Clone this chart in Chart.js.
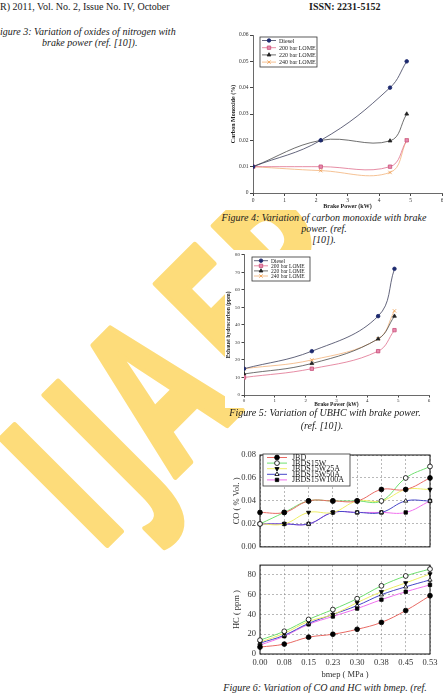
<!DOCTYPE html>
<html>
<head>
<meta charset="utf-8">
<script src="https://cdn.jsdelivr.net/npm/chart.js@4.4.0/dist/chart.umd.min.js"></script>
<style>
    body { margin: 0; width: 443px; height: 695px; overflow: hidden; position: relative; background: #fff; font-family: "Liberation Serif", "Times New Roman", serif; }
    .wm { position: absolute; left: 0; top: 0; z-index: 0; }
    .sheet { position: absolute; background: #fff; z-index: 1; }
    .plot { position: absolute; z-index: 2; }
    .txt { position: absolute; z-index: 3; white-space: nowrap; color: #1a1a1a; font-size: 10px; line-height: 12px; }
    .it { font-style: italic; }
    .ctr { transform: translateX(-50%); }
</style>
</head>
<body>

<svg class="wm" width="443" height="695">
    <g transform="translate(116,536) rotate(-45) scale(0.66,1)">
        <text id="wmText" x="0" y="0" font-family="Open Sans" font-weight="700" font-size="210"
              fill="#FDDC7A" stroke="#FDDC7A" stroke-width="6" stroke-linejoin="round">IJAER</text>
    </g>
</svg>

<div class="txt" style="left:0; top:1px;">R) 2011, Vol. No. 2, Issue No. IV, October</div>
<div class="txt" style="left:309px; top:1px; font-weight:bold;">ISSN: 2231-5152</div>
<div class="txt it" style="left:0; top:26px;">igure 3: Variation of oxides of nitrogen with</div>
<div class="txt it" style="left:42px; top:37px;">brake power (ref. [10]).</div>

<div class="sheet" style="left:225px; top:25px; width:218px; height:185px;"></div>
<div class="plot" style="left:225px; top:25px; width:230px; height:185px;"><canvas id="fig4"></canvas></div>
<div class="txt it ctr" style="left:324px; top:212px;">Figure 4: Variation of carbon monoxide with brake</div>
<div class="txt it ctr" style="left:324px; top:223px;">power. (ref.</div>
<div class="txt it ctr" style="left:324px; top:234px;">[10]).</div>

<div class="sheet" style="left:225px; top:250px; width:218px; height:158px;"></div>
<div class="plot" style="left:225px; top:250px; width:230px; height:158px;"><canvas id="fig5"></canvas></div>
<div class="txt it ctr" style="left:325px; top:407px;">Figure 5: Variation of UBHC with brake power.</div>
<div class="txt it ctr" style="left:322px; top:420px;">(ref. [10]).</div>

<div class="sheet" style="left:225px; top:440px; width:218px; height:242px;"></div>
<div class="plot" style="left:225px; top:445px; width:218px; height:111px;"><canvas id="fig6co"></canvas></div>
<div class="plot" style="left:225px; top:556px; width:218px; height:124px;"><canvas id="fig6hc"></canvas></div>
<div class="txt it ctr" style="left:325px; top:682px;">Figure 6: Variation of CO and HC with bmep. (ref.</div>

<script>
// Figure 4: CO vs brake power
const bpCO = [0, 2.15, 4.35, 4.88];
const coDiesel = [0.010, 0.020, 0.040, 0.050];
const co200 = [0.010, 0.010, 0.010, 0.020];
const co220 = [0.010, 0.020, 0.0198, 0.030];
const co240 = [0.010, 0.0085, 0.0078, 0.020];

// Figure 5: UBHC vs brake power
const bpHC = [0, 2.2, 4.35, 4.88];
const hcDiesel = [15, 25, 45, 72];
const hc200 = [10, 15, 25, 37];
const hc220 = [12, 18, 32, 45];
const hc240 = [15, 20, 32, 48];

const fuelNames = ['Diesel', '200 bar LOME', '220 bar LOME', '240 bar LOME'];

// Figure 6: CO and HC vs bmep
const bmepLabels = ['0.00', '0.08', '0.15', '0.23', '0.30', '0.38', '0.45', '0.53'];
const blendNames = ['JBD', 'JBDS15W', 'JBDS15W25A', 'JBDS15W50A', 'JBDS15W100A'];
const coJBD    = [0.030, 0.030, 0.040, 0.040, 0.040, 0.050, 0.050, 0.060];
const coW      = [0.020, 0.030, 0.040, 0.040, 0.040, 0.040, 0.060, 0.070];
const coW25A   = [0.020, 0.020, 0.030, 0.030, 0.040, 0.040, 0.050, 0.050];
const coW50A   = [0.020, 0.020, 0.020, 0.030, 0.030, 0.030, 0.040, 0.040];
const coW100A  = [0.020, 0.020, 0.020, 0.030, 0.030, 0.030, 0.030, 0.040];
const hcJBD    = [7, 10, 17, 20, 25, 32, 44, 59];
const hcW      = [14, 23, 35, 45, 56, 69, 79, 86];
const hcW25A   = [12, 21, 33, 40, 52, 63, 72, 81];
const hcW50A   = [11, 19, 31, 40, 49, 60, 68, 75];
const hcW100A  = [9, 18, 30, 38, 46, 55, 63, 70];

document.addEventListener('DOMContentLoaded', () => {
    const serif = '"Liberation Serif", "Times New Roman", serif';

    // place watermark letters so their ink starts where the scan shows it
    (function placeWatermark() {
        const inkLeft = [-14, 25, 83, 205, 287];
        const sx = 0.66;
        const t = document.getElementById('wmText');
        const c = document.createElement('canvas').getContext('2d');
        c.font = '700 210px "Open Sans"';
        const xs = t.textContent.split('').map((ch, i) => {
            const m = c.measureText(ch);
            return (inkLeft[i] / sx + m.actualBoundingBoxLeft).toFixed(1);
        });
        t.setAttribute('x', xs.join(' '));
    })();

    const fuelStyles = [
        { line: '#3c3f5c', fill: '#1d2a6e', edge: '#1d2a6e', shape: 'circle', r: 1.8 },
        { line: '#e0708e', fill: '#e88aae', edge: '#c8507a', shape: 'rect', r: 2.4 },
        { line: '#4a4a4a', fill: '#222', edge: '#222', shape: 'triangle', r: 2.2 },
        { line: '#f2b27a', fill: '#f6a860', edge: '#ee9a4a', shape: 'crossRot', r: 2.4 }
    ];
    const blendStyles = [
        { line: '#e86a64', fill: '#000', shape: 'circle', rot: 0 },
        { line: '#70e070', fill: '#fff', shape: 'circle', rot: 0 },
        { line: '#eeee66', fill: '#000', shape: 'triangle', rot: 180 },
        { line: '#4646c8', fill: '#fff', shape: 'triangle', rot: 0 },
        { line: '#f070ee', fill: '#000', shape: 'rect', rot: 0 }
    ];

    const boxLegend = {
        id: 'boxLegend',
        afterDatasetsDraw(chart, args, opts) {
            if (!opts || !opts.rect) return;
            const ctx = chart.ctx;
            const [x, y, w, h] = opts.rect;
            ctx.save();
            ctx.fillStyle = '#fff';
            ctx.fillRect(x, y, w, h);
            ctx.strokeStyle = '#333';
            ctx.lineWidth = 0.8;
            ctx.strokeRect(x, y, w, h);
            ctx.font = opts.font;
            ctx.textBaseline = 'middle';
            chart.data.datasets.forEach((ds, i) => {
                const ry = y + opts.first + i * opts.step;
                const lx = x + opts.inset;
                ctx.strokeStyle = ds.borderColor;
                ctx.lineWidth = ds.borderWidth;
                ctx.beginPath();
                ctx.moveTo(lx, ry);
                ctx.lineTo(lx + opts.len, ry);
                ctx.stroke();
                ctx.fillStyle = ds.pointBackgroundColor;
                ctx.strokeStyle = ds.pointBorderColor;
                ctx.lineWidth = ds.pointBorderWidth;
                Chart.helpers.drawPoint(ctx, {
                    pointStyle: ds.pointStyle,
                    radius: ds.pointRadius,
                    rotation: ds.pointRotation || 0,
                    borderWidth: ds.pointBorderWidth
                }, lx + opts.len / 2, ry);
                ctx.fillStyle = '#222';
                ctx.fillText(ds.label, lx + opts.len + opts.gap, ry + 0.5);
            });
            ctx.restore();
        }
    };

    const frame = {
        id: 'frame',
        beforeDatasetsDraw(chart) {
            const a = chart.chartArea;
            const ctx = chart.ctx;
            ctx.save();
            ctx.strokeStyle = '#111';
            ctx.lineWidth = 1;
            ctx.strokeRect(a.left, a.top, a.right - a.left, a.bottom - a.top);
            ctx.restore();
        }
    };

    function xy(xs, ys) {
        return xs.map((x, i) => ({ x: x, y: ys[i] }));
    }

    function fuelSets(xs, series) {
        return series.map((ys, i) => {
            const s = fuelStyles[i];
            return {
                label: fuelNames[i],
                data: xy(xs, ys),
                borderColor: s.line,
                borderWidth: 0.8,
                tension: 0.4,
                pointStyle: s.shape,
                pointRadius: s.r,
                pointBackgroundColor: s.fill,
                pointBorderColor: s.edge,
                pointBorderWidth: 0.8
            };
        });
    }

    function blendSets(series) {
        return series.map((ys, i) => {
            const s = blendStyles[i];
            return {
                label: blendNames[i],
                data: ys,
                borderColor: s.line,
                borderWidth: 1,
                tension: 0.4,
                pointStyle: s.shape,
                pointRotation: s.rot,
                pointRadius: 2.4,
                pointBackgroundColor: s.fill,
                pointBorderColor: '#000',
                pointBorderWidth: 0.8
            };
        });
    }

    function fuelChart(id, xs, series, cfg) {
        const tickFont = { family: serif, size: cfg.tickSize };
        const titleFont = { family: serif, size: cfg.titleSize, weight: 'bold' };
        return new Chart(document.getElementById(id), {
            type: 'line',
            data: { datasets: fuelSets(xs, series) },
            plugins: [boxLegend],
            options: {
                responsive: true,
                maintainAspectRatio: false,
                animation: false,
                layout: { padding: cfg.pad },
                plugins: {
                    legend: { display: false },
                    tooltip: { enabled: false },
                    boxLegend: cfg.legend
                },
                scales: {
                    x: {
                        type: 'linear', min: 0, max: 6,
                        ticks: { stepSize: 1, font: tickFont, color: '#333', padding: cfg.xPad, maxRotation: 0 },
                        grid: { drawOnChartArea: false, tickLength: cfg.tickLen, color: '#444' },
                        border: { color: '#444', width: 0.8 },
                        title: { display: true, text: 'Brake Power (kW)', font: titleFont, color: '#222', padding: { top: cfg.xTitlePad, bottom: 0 } },
                        afterFit: (s) => { s.height = cfg.xHeight; }
                    },
                    y: {
                        min: 0, max: cfg.yMax,
                        ticks: { stepSize: cfg.yStep, font: tickFont, color: '#333', padding: 1.5, callback: cfg.yFmt },
                        grid: { drawOnChartArea: false, tickLength: cfg.tickLen, color: '#444' },
                        border: { color: '#444', width: 0.8 },
                        title: { display: true, text: cfg.yTitle, font: titleFont, color: '#222', padding: { top: cfg.yTitlePad, bottom: 0 } },
                        afterFit: (s) => { s.width = cfg.yWidth; }
                    }
                }
            }
        });
    }

    fuelChart('fig4', bpCO, [coDiesel, co200, co220, co240], {
        pad: { top: 10, right: 13, bottom: 0, left: 0 },
        yMax: 0.06, yStep: 0.01,
        yFmt: (v) => (v === 0 ? '0' : v.toFixed(2)),
        yTitle: 'Carbon Monoxide (%)',
        tickSize: 5.5, titleSize: 6, tickLen: 3, xPad: 1,
        xTitlePad: 3.4, yTitlePad: 4.4, xHeight: 17, yWidth: 28,
        legend: { rect: [35, 12, 57, 30], first: 3.5, step: 7.2, inset: 2, len: 14, gap: 3, font: '6px ' + serif }
    });

    fuelChart('fig5', bpHC, [hcDiesel, hc200, hc220, hc240], {
        pad: { top: 4, right: 26, bottom: 0, left: 0 },
        yMax: 80, yStep: 10,
        yFmt: (v) => String(v),
        yTitle: 'Exhaust hydrocarbon (ppm)',
        tickSize: 5, titleSize: 5.5, tickLen: 2.5, xPad: 0.5,
        xTitlePad: 0, yTitlePad: 0, xHeight: 13, yWidth: 19,
        legend: { rect: [27, 7, 58, 24], first: 3.7, step: 5.1, inset: 2, len: 14, gap: 3, font: '5.5px ' + serif }
    });

    function blendChart(id, series, cfg) {
        const font = { family: serif, size: 8.5 };
        const gridLook = { color: '#8a8a8a', lineWidth: 0.6, drawTicks: false };
        const opts = {
            responsive: true,
            maintainAspectRatio: false,
            animation: false,
            layout: { padding: cfg.pad },
            plugins: {
                legend: { display: false },
                tooltip: { enabled: false }
            },
            scales: {
                x: {
                    type: 'category', offset: false,
                    ticks: { display: cfg.showX, font: font, color: '#333', padding: 4, autoSkip: false, maxRotation: 0 },
                    grid: gridLook,
                    border: { display: false, dash: [2, 2] },
                    title: { display: cfg.showX, text: 'bmep ( MPa )', font: font, color: '#333', padding: { top: 0, bottom: 0 } },
                    afterFit: (s) => { s.height = cfg.xHeight; }
                },
                y: {
                    min: 0, max: cfg.yMax,
                    ticks: { font: font, color: '#333', padding: 4, callback: cfg.yFmt },
                    afterBuildTicks: (s) => { s.ticks = cfg.yTicks.map((v) => ({ value: v })); },
                    grid: gridLook,
                    border: { display: false, dash: [2, 2] },
                    title: { display: true, text: cfg.yTitle, font: font, color: '#333', padding: { top: 7, bottom: 0 } },
                    afterFit: (s) => { s.width = 35; }
                }
            }
        };
        if (cfg.legend) opts.plugins.boxLegend = cfg.legend;
        return new Chart(document.getElementById(id), {
            type: 'line',
            data: { labels: bmepLabels, datasets: blendSets(series) },
            plugins: cfg.legend ? [frame, boxLegend] : [frame],
            options: opts
        });
    }

    blendChart('fig6co', [coJBD, coW, coW25A, coW50A, coW100A], {
        pad: { top: 10, right: 13, bottom: 0, left: 0 },
        showX: false, xHeight: 2,
        yMax: 0.08, yTicks: [0, 0.02, 0.04, 0.06, 0.08],
        yFmt: (v) => v.toFixed(2),
        yTitle: 'CO ( % Vol. )',
        legend: { rect: [38, 9, 87, 32], first: 3.5, step: 5.6, inset: 4, len: 20, gap: 5, font: '8px ' + serif }
    });

    blendChart('fig6hc', [hcJBD, hcW, hcW25A, hcW50A, hcW100A], {
        pad: { top: 2, right: 13, bottom: 0, left: 0 },
        showX: true, xHeight: 26,
        yMax: 90, yTicks: [0, 20, 40, 60, 80],
        yFmt: (v) => String(v),
        yTitle: 'HC ( ppm )'
    });
});
</script>
</body>
</html>
